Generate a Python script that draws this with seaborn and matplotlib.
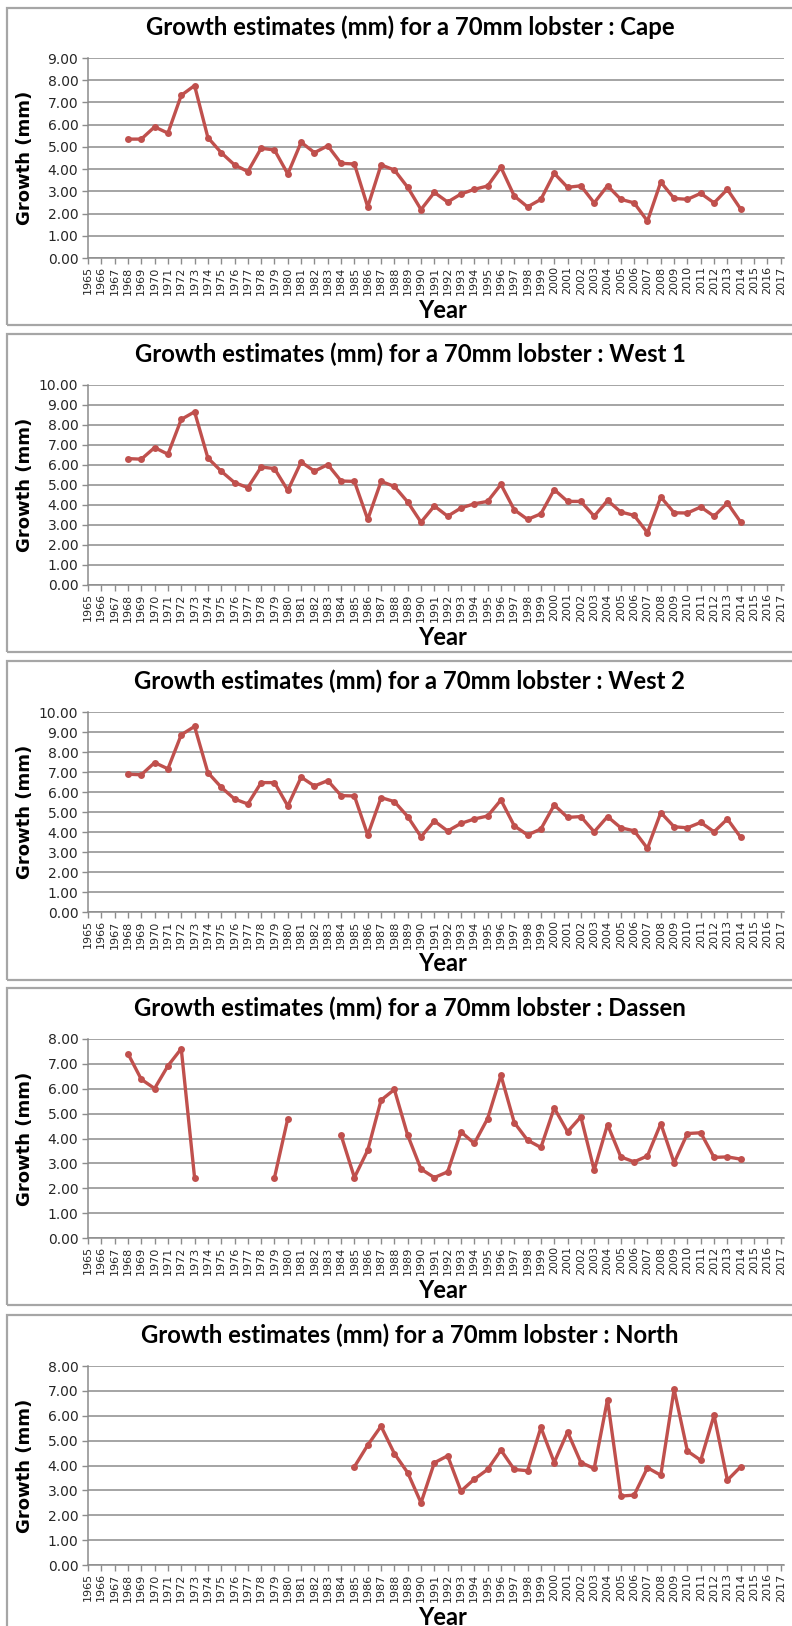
import numpy as np
import pandas as pd
import matplotlib
matplotlib.use("Agg")
import matplotlib.pyplot as plt
import seaborn as sns
from matplotlib.patches import Rectangle
from matplotlib.ticker import FormatStrFormatter

# ---- data: growth estimates (mm) for a 70 mm lobster, by region ----
years_main = list(range(1968, 2015))
years_north = list(range(1985, 2015))
axis_years = list(range(1965, 2018))

cape = [5.35, 5.35, 5.90, 5.62, 7.32, 7.76, 5.42, 4.74, 4.19, 3.89,
        4.94, 4.86, 3.78, 5.21, 4.74, 5.05, 4.26, 4.23, 2.30, 4.19,
        3.96, 3.18, 2.18, 2.95, 2.52, 2.88, 3.09, 3.24, 4.08, 2.79,
        2.30, 2.64, 3.81, 3.18, 3.25, 2.48, 3.25, 2.64, 2.48, 1.66,
        3.42, 2.68, 2.64, 2.91, 2.48, 3.09, 2.20]

west1 = [6.32, 6.29, 6.87, 6.54, 8.28, 8.66, 6.35, 5.69, 5.12, 4.87,
         5.90, 5.82, 4.73, 6.15, 5.69, 6.02, 5.20, 5.18, 3.28, 5.18,
         4.93, 4.15, 3.14, 3.95, 3.44, 3.85, 4.06, 4.18, 5.03, 3.76,
         3.28, 3.56, 4.77, 4.18, 4.18, 3.44, 4.23, 3.65, 3.48, 2.61,
         4.40, 3.61, 3.60, 3.90, 3.44, 4.10, 3.14]

west2 = [6.89, 6.86, 7.47, 7.16, 8.86, 9.28, 6.97, 6.24, 5.65, 5.40,
         6.47, 6.47, 5.30, 6.74, 6.30, 6.57, 5.82, 5.80, 3.85, 5.72,
         5.52, 4.77, 3.76, 4.55, 4.05, 4.43, 4.65, 4.80, 5.60, 4.31,
         3.85, 4.15, 5.35, 4.73, 4.77, 4.01, 4.77, 4.21, 4.06, 3.18,
         4.97, 4.26, 4.21, 4.48, 4.01, 4.65, 3.73]

dassen = [7.41, 6.38, 6.01, 6.92, 7.61, 2.43, None, None, None, None,
          None, 2.43, 4.80, None, None, None, 4.13, 2.43, 3.53, 5.54,
          5.97, 4.13, 2.77, 2.43, 2.66, 4.27, 3.80, 4.80, 6.54, 4.64,
          3.93, 3.64, 5.23, 4.27, 4.87, 2.73, 4.56, 3.26, 3.06, 3.30,
          4.60, 3.02, 4.20, 4.23, 3.24, 3.26, 3.17]

north = [3.95, 4.82, 5.58, 4.48, 3.71, 2.50, 4.11, 4.39, 2.97, 3.45,
         3.84, 4.62, 3.84, 3.79, 5.53, 4.12, 5.35, 4.12, 3.88, 6.65,
         2.77, 2.81, 3.91, 3.61, 7.06, 4.58, 4.21, 6.02, 3.41, 3.95]

regions = ["Cape", "West 1", "West 2", "Dassen", "North"]
region_years = [years_main, years_main, years_main, years_main, years_north]
region_values = [cape, west1, west2, dassen, north]
region_ymax = [9, 10, 10, 8, 8]

# ---- styling ----
sns.set_theme(style="white")
plt.rcParams["font.family"] = ["DejaVu Sans"]

W, H = 792, 1626
LINE = "#C0504D"
GRID = "#8C8C8C"
FRAME = "#A6A6A6"
TEXT = "#262626"
TITLE_FONT = ["Lato", "DejaVu Sans"]

# pixel layout of each panel: axes top/bottom, frame top/bottom, title and x-label rows
layout = [
    dict(top=58, bottom=258, box=(8, 325), title_y=27, xlab_y=310),
    dict(top=385, bottom=585, box=(334, 652), title_y=354, xlab_y=637),
    dict(top=712, bottom=912, box=(661, 980), title_y=681, xlab_y=963),
    dict(top=1039, bottom=1238, box=(988, 1305), title_y=1008, xlab_y=1290),
    dict(top=1366, bottom=1565, box=(1315, 1700), title_y=1335, xlab_y=1617),
]
X0, X1 = 88, 784

fig = plt.figure(figsize=(W / 100, H / 100), dpi=100)
fig.patch.set_facecolor("white")


def fx(px):
    return px / W


def fy(py):
    return 1 - py / H


for region, xs, ys, ymax, lay in zip(regions, region_years, region_values,
                                      region_ymax, layout):
    # panel frame
    b0, b1 = lay["box"]
    fig.patches.append(Rectangle((fx(7), fy(b1)), fx(820 - 7), (b1 - b0) / H,
                                 transform=fig.transFigure, fill=False,
                                 edgecolor=FRAME, linewidth=1.6, zorder=0))

    ax = fig.add_axes([fx(X0), fy(lay["bottom"]), fx(X1 - X0),
                       (lay["bottom"] - lay["top"]) / H])
    ax.set_facecolor("none")

    df = pd.DataFrame({"year": xs, "growth": pd.array(ys, dtype="Float64")})
    df["growth"] = df["growth"].astype(float)
    df["run"] = df["growth"].isna().cumsum()
    df = df.dropna()

    sns.lineplot(data=df, x="year", y="growth", units="run", estimator=None,
                 color=LINE, linewidth=2.4, marker="o", markersize=5,
                 markeredgewidth=0, ax=ax, zorder=3)

    ax.set_xlim(1965, 2017.25)
    ax.set_ylim(0, ymax)
    ax.set_yticks(np.arange(0, ymax + 1, 1))
    ax.yaxis.set_major_formatter(FormatStrFormatter("%.2f"))
    ax.set_xticks(axis_years)
    ax.set_xticklabels([str(y) for y in axis_years], rotation=90)

    ax.grid(axis="y", color=GRID, linewidth=1.1)
    ax.grid(axis="x", visible=False)
    ax.set_axisbelow(True)
    for side in ("top", "right"):
        ax.spines[side].set_visible(False)
    for side in ("left", "bottom"):
        ax.spines[side].set_color(GRID)
        ax.spines[side].set_linewidth(1.1)

    ax.tick_params(axis="y", which="both", left=True, length=4, width=1,
                   color=GRID, pad=3, labelsize=10, labelcolor=TEXT)
    ax.tick_params(axis="x", which="both", bottom=True, length=4, width=1,
                   color=GRID, pad=2, labelsize=8, labelcolor=TEXT)
    ax.set_xlabel("")
    ax.set_ylabel("")

    fig.text(fx(25), fy((lay["top"] + lay["bottom"]) / 2), "Growth (mm)",
             rotation=90, ha="center", va="center", fontsize=13,
             fontweight="bold", color="black")
    fig.text(fx(410), fy(lay["title_y"]),
             f"Growth estimates (mm) for a 70mm lobster : {region}",
             ha="center", va="center", fontsize=17.2, fontweight="bold",
             family=TITLE_FONT, color="black")
    fig.text(fx(443), fy(lay["xlab_y"]), "Year", ha="center", va="center",
             fontsize=17, fontweight="bold", family=TITLE_FONT, color="black")

fig.savefig("out.png", dpi=100, facecolor="white")
